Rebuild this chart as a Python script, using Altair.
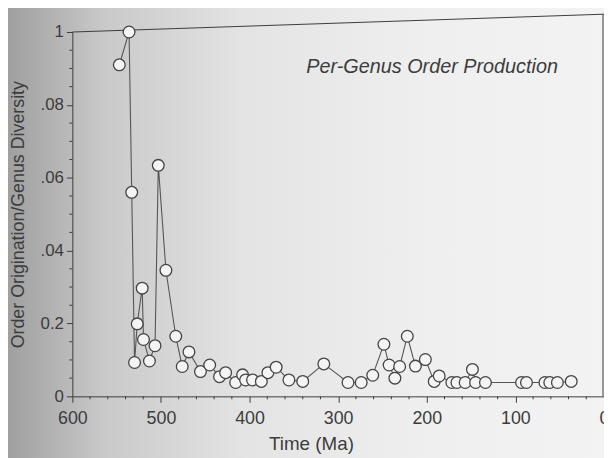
import altair as alt
import pandas as pd

# --- data ---
time_ma = [547, 536, 533, 529.8, 526.8, 521.2, 519.7, 513, 506.7, 503, 494.4,
           483.3, 476, 468.4, 455.4, 445, 433.9, 427, 415.7, 407.9, 404.5,
           396.7, 386.7, 379.3, 370, 355.6, 340, 316.2, 288.9, 274, 261,
           248.4, 242.5, 236, 230.6, 222, 212.8, 201.6, 191.6, 186, 171.7,
           166, 156.7, 148.5, 144.9, 133.8, 93.1, 87.5, 66.7, 61.2, 52.6, 37]
ratio = [0.091, 0.100, 0.056, 0.0093, 0.0199, 0.0297, 0.0156, 0.0097, 0.0139,
         0.0634, 0.0346, 0.0165, 0.0082, 0.0122, 0.0068, 0.0086, 0.0054,
         0.0065, 0.0038, 0.0059, 0.0045, 0.0045, 0.0041, 0.0065, 0.0080,
         0.0045, 0.0041, 0.0089, 0.0038, 0.0038, 0.0058, 0.0143, 0.0086,
         0.0050, 0.0082, 0.0165, 0.0083, 0.0101, 0.0041, 0.0056, 0.0038,
         0.0038, 0.0038, 0.0074, 0.0038, 0.0038, 0.0038, 0.0038, 0.0038,
         0.0038, 0.0038, 0.0041]

x_major = [600, 500, 400, 300, 200, 100, 0]
x_minor = [t for t in range(20, 600, 20) if t % 100 != 0]
y_major = [0, 0.02, 0.04, 0.06, 0.08, 0.1]
y_labels = ["0", "0.2", ".04", ".06", ".08", "1"]
y_minor = [0.005, 0.01, 0.015, 0.025, 0.03, 0.035, 0.045, 0.05, 0.055,
           0.065, 0.07, 0.075, 0.085, 0.09, 0.095]

annotation = "Per-Genus Order Production"
x_title = "Time (Ma)"
y_title = "Order Origination/Genus Diversity"

df = pd.DataFrame({"t": time_ma, "v": ratio})

W, H = 537, 368
INK = "#3c3c3c"
FONT = "Liberation Sans"

y_label_expr = " : ".join(
    [f"abs(datum.value - {v}) < 1e-6 ? '{l}'" for v, l in zip(y_major, y_labels)]
) + " : ''"

x_scale = alt.Scale(domain=[600, 0], nice=False, zero=False)
y_scale = alt.Scale(domain=[0, 0.1], nice=False)

x_axis = alt.Axis(
    values=x_major, format="d", tickSize=6,
    grid=False, domainColor=INK, tickColor=INK, labelColor=INK,
    labelFont=FONT, labelFontSize=18, labelPadding=7,
    title=x_title, titleFont=FONT, titleFontSize=19, titleFontWeight="normal",
    titleColor=INK, titleX=241, titleY=39,
    labelFlush=False, labelOverlap=False, labelBound=False, zindex=2,
)
y_axis = alt.Axis(
    values=y_major, labelExpr=y_label_expr, tickSize=6,
    grid=False, domainColor=INK, tickColor=INK, labelColor=INK,
    labelFont=FONT, labelFontSize=17, labelPadding=3,
    title=y_title, titleFont=FONT, titleFontSize=18, titleFontWeight="normal",
    titleColor=INK, titleX=-45, titleY=184,
    labelFlush=False, labelOverlap=False, labelBound=False, zindex=2,
)

bg = alt.Chart(pd.DataFrame({"a": [0]})).mark_rect(
    color=alt.LinearGradient(
        gradient="linear", x1=0, x2=1, y1=0, y2=0,
        stops=[alt.GradientStop(color="#9c9c9c", offset=0),
               alt.GradientStop(color="#c9c9c9", offset=0.17),
               alt.GradientStop(color="#e4e4e4", offset=0.4),
               alt.GradientStop(color="#efefef", offset=0.7),
               alt.GradientStop(color="#f3f3f3", offset=1)]),
).encode(x=alt.value(-73), x2=alt.value(W + 10), y=alt.value(-30), y2=alt.value(H + 70))

frame_top = alt.Chart(pd.DataFrame({"a": [0]})).mark_rule(color=INK, strokeWidth=1).encode(
    x=alt.value(0), x2=alt.value(W), y=alt.value(0), y2=alt.value(-18))
frame_right = alt.Chart(pd.DataFrame({"a": [0]})).mark_rule(color=INK, strokeWidth=1).encode(
    x=alt.value(W - 1), x2=alt.value(W - 1), y=alt.value(-18), y2=alt.value(H))

x_minor_ticks = alt.Chart(pd.DataFrame({"t": x_minor})).mark_rule(color=INK, strokeWidth=1).encode(
    x=alt.X("t:Q", scale=x_scale), y=alt.value(H), y2=alt.value(H + 3))
y_minor_ticks = alt.Chart(pd.DataFrame({"v": y_minor})).mark_rule(color=INK, strokeWidth=1).encode(
    y=alt.Y("v:Q", scale=y_scale), x=alt.value(0), x2=alt.value(-3))

base = alt.Chart(df)
line = base.mark_line(color="#555555", strokeWidth=1.1).encode(
    x=alt.X("t:Q", scale=x_scale, axis=x_axis, sort=None),
    y=alt.Y("v:Q", scale=y_scale, axis=y_axis),
    order=alt.Order("t:Q", sort="descending"),
)
pts = base.mark_point(shape="circle", size=140, filled=False, fill="#f4f4f4",
                      fillOpacity=1, stroke="#444444", strokeWidth=1.3, opacity=1).encode(
    x=alt.X("t:Q", scale=x_scale),
    y=alt.Y("v:Q", scale=y_scale),
)
note = alt.Chart(pd.DataFrame({"t": [194], "v": [0.0905], "s": [annotation]})).mark_text(
    font=FONT, fontSize=20, fontStyle="italic", color=INK, align="center", baseline="middle"
).encode(x=alt.X("t:Q", scale=x_scale), y=alt.Y("v:Q", scale=y_scale), text="s:N")

chart = alt.layer(bg, frame_top, frame_right, line, x_minor_ticks, y_minor_ticks, pts, note).properties(
    width=W, height=H,
    autosize=alt.AutoSizeParams(type="none"),
    padding={"left": 65, "top": 22, "right": 0, "bottom": 60},
    background="#f0f0f0",
).configure_view(stroke=None)

chart.save("out.html", embed_options={"renderer": "svg", "actions": False})
